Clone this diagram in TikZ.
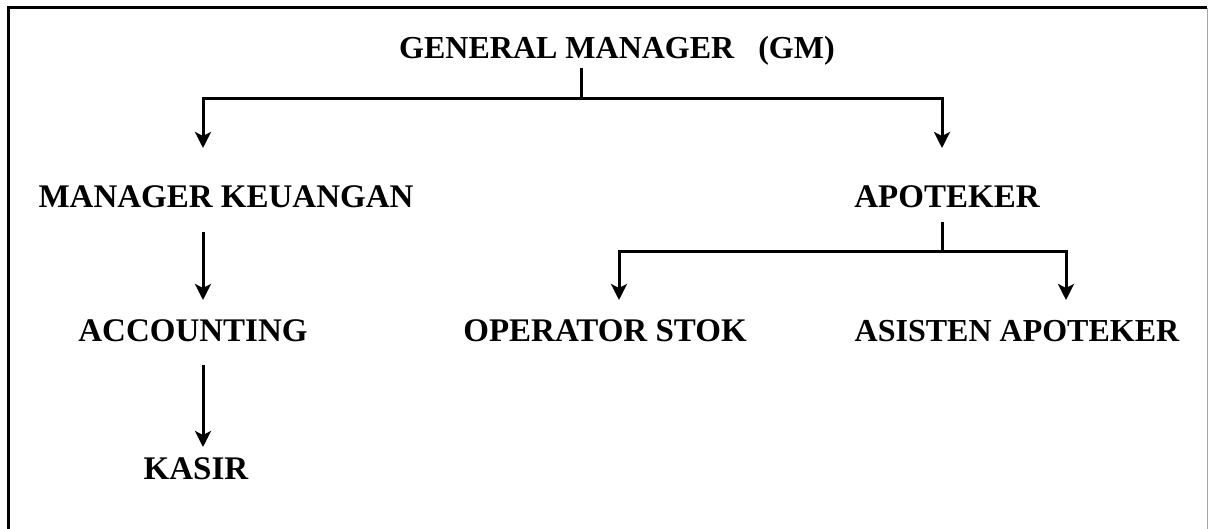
\documentclass[tikz,border=0pt]{standalone}
\usepackage{fontspec}
\setmainfont{Liberation Serif}
\usetikzlibrary{arrows.meta}
\begin{document}
\begin{tikzpicture}[x=1pt,y=-1pt,
  lbl/.style={inner sep=0pt, anchor=base, font=\fontsize{33}{39}\selectfont\bfseries},
  ln/.style={line width=3pt},
  arr/.style={line width=3pt, -{Stealth[length=16pt,width=16pt,inset=4pt]}}]
\useasboundingbox (0,0) rectangle (1208,529);
% frame
\draw[line width=3pt] (8,529) -- (8,8) -- (1207,8);
\draw[line width=1pt, black!35] (1207,8) -- (1207,529);
% labels
\node[lbl, font=\fontsize{32}{38}\selectfont\bfseries] (gm) at (617,59) {GENERAL MANAGER \ \ (GM)};
\node[lbl] (mk) at (226,208) {MANAGER KEUANGAN};
\node[lbl] (ap) at (947,208) {APOTEKER};
\node[lbl] (acc) at (193,342) {ACCOUNTING};
\node[lbl] (ops) at (605,342) {OPERATOR STOK};
\node[lbl, font=\fontsize{32}{38}\selectfont\bfseries] (asa) at (1017,342) {ASISTEN APOTEKER};
\node[lbl] (ks) at (196,479) {KASIR};
% junction and arrow-end coordinates
\coordinate (gmS) at (581,68);
\coordinate (j1) at (581,99);
\coordinate (mkT) at (203,148);
\coordinate (apT) at (942,148);
\coordinate (apS) at (942,222);
\coordinate (j2) at (942,252);
\coordinate (opsT) at (619,300);
\coordinate (asaT) at (1066,300);
\coordinate (mkS) at (203,232);
\coordinate (accT) at (203,300);
\coordinate (accS) at (203,365);
\coordinate (ksT) at (203,447);
% connectors
\draw[ln] (gmS) -- (j1);
\draw[arr] (j1) -| (mkT);
\draw[arr] (j1) -| (apT);
\draw[ln] (apS) -- (j2);
\draw[arr] (j2) -| (opsT);
\draw[arr] (j2) -| (asaT);
\draw[arr] (mkS) -- (accT);
\draw[arr] (accS) -- (ksT);
\end{tikzpicture}
\end{document}
